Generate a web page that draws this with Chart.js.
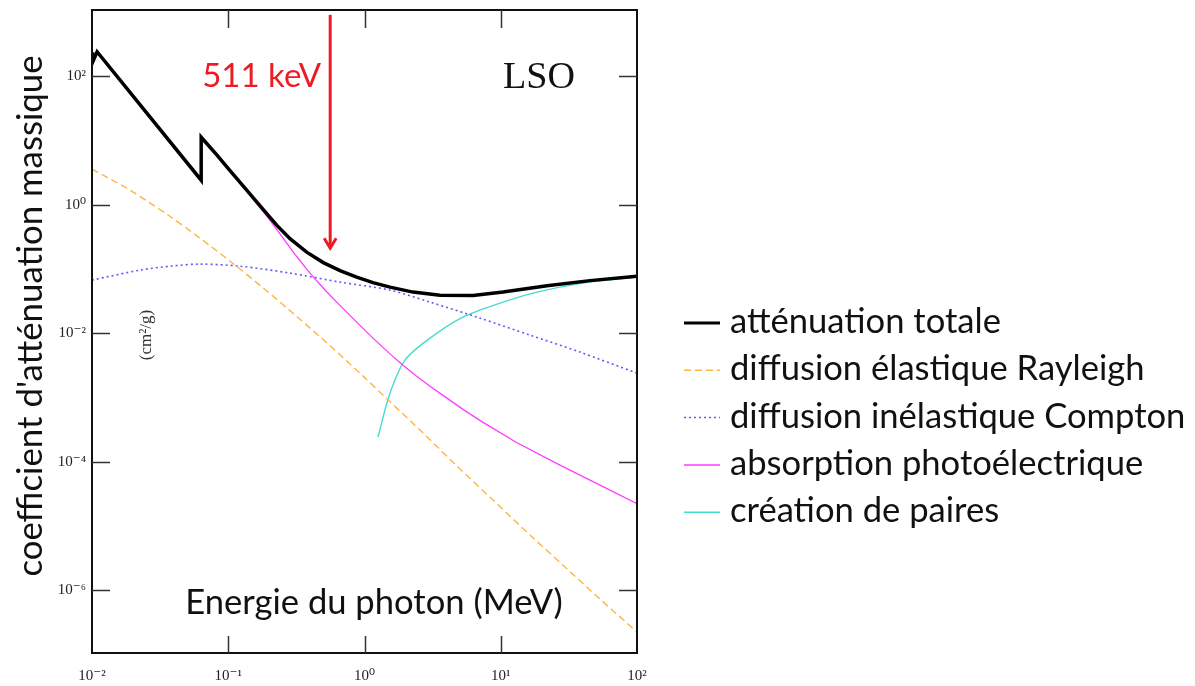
<!DOCTYPE html>
<html>
<head>
<meta charset="utf-8">
<script src="https://cdn.jsdelivr.net/npm/chart.js@4"></script>
<style>
  html, body { margin: 0; padding: 0; background: #fff; }
  #wrap { width: 1195px; height: 686px; position: relative; }
</style>
</head>
<body>
<div id="wrap"><canvas id="lsoChart"></canvas></div>
<script>
// LSO mass attenuation, energy in MeV, values in cm2/g
const totalEnergy = [0.01, 0.0101, 0.0109, 0.0267, 0.0633, 0.0633, 0.0827, 0.103, 0.1366, 0.1808, 0.2267, 0.2839, 0.3764, 0.4984, 0.661, 0.8764, 1.154, 1.539, 2.27, 3.58, 6.26, 10.4, 21.85, 45.2, 100];
const totalValue = [235, 165, 240, 23, 2.4, 11.2, 5.89, 3.38, 1.68, 0.836, 0.48, 0.2957, 0.1823, 0.1252, 0.0939, 0.0744, 0.0611, 0.052, 0.0435, 0.039, 0.0384, 0.0435, 0.0548, 0.0656, 0.0771];

const rayleighEnergy = [0.01, 0.019, 0.0374, 0.062, 0.1084, 0.18, 0.3196, 0.558, 0.975, 1.463, 2.555, 4.775, 8.77, 16.4, 29.6, 53.5, 100];
const rayleighValue = [3.57, 1.68, 0.653, 0.301, 0.121, 0.0507, 0.018, 0.00637, 0.00214, 9.46e-4, 3.09e-4, 8.51e-5, 2.52e-5, 7.18e-6, 2.28e-6, 7.24e-7, 2.22e-7];

const comptonEnergy = [0.01, 0.0225, 0.0374, 0.062, 0.122, 0.284, 0.661, 1.539, 3.025, 7.04, 16.4, 38.2, 100];
const comptonValue = [0.0668, 0.0956, 0.110, 0.1186, 0.110, 0.0859, 0.0622, 0.0467, 0.0304, 0.0171, 0.0093, 0.00506, 0.00238];

const photoEnergy = [0.01, 0.0101, 0.0109, 0.0267, 0.0633, 0.0633, 0.0827, 0.103, 0.1366, 0.1618, 0.1893, 0.2267, 0.2677, 0.318, 0.3764, 0.4459, 0.528, 0.625, 0.8764, 1.154, 1.539, 1.917, 2.388, 3.025, 3.769, 5.28, 7.41, 13.16, 27.2, 53.5, 100];
const photoValue = [225, 158, 232, 22, 2.3, 10.8, 5.69, 3.26, 1.62, 1.036, 0.687, 0.4127, 0.2543, 0.1557, 0.0991, 0.0652, 0.0441, 0.0304, 0.01483, 0.00836, 0.00475, 0.003165, 0.002173, 0.001491, 0.001072, 6.49e-4, 4.07e-4, 1.96e-4, 8.79e-5, 4.29e-5, 2.21e-5];

const pairEnergy = [1.256, 1.539, 1.983, 3.025, 5.28, 9.87, 18.45, 40.2, 100];
const pairValue = [2.41e-4, 1.164e-3, 0.0038, 0.00836, 0.01774, 0.0293, 0.0435, 0.06, 0.0744];

const seriesLabels = [
  "atténuation totale",
  "diffusion élastique Rayleigh",
  "diffusion inélastique Compton",
  "absorption photoélectrique",
  "création de paires"
];

const xTicks = [1e-2, 1e-1, 1, 10, 100];
const yTicks = [1e-6, 1e-4, 1e-2, 1, 1e2];

const arrowEnergy = 0.56;   // where the 511 keV arrow is drawn
const arrowTop = 900;
const arrowTip = 0.21;

const SUP = { "-": "\u207B", "0": "\u2070", "1": "\u00B9", "2": "\u00B2", "3": "\u00B3",
  "4": "\u2074", "5": "\u2075", "6": "\u2076", "7": "\u2077", "8": "\u2078", "9": "\u2079" };

function powLabel(v) {
  const e = Math.round(Math.log10(v));
  return "10" + String(e).split("").map(c => SUP[c]).join("");
}

function toPoints(xs, ys) {
  return xs.map((x, i) => ({ x: x, y: ys[i] }));
}

function fitSize(ctx, text, family, target) {
  ctx.font = "100px " + family;
  return 100 * target / ctx.measureText(text).width;
}

const SANS = "Lato, 'Open Sans', sans-serif";
const SERIF = "'Liberation Serif', 'DejaVu Serif', serif";

const framePlugin = {
  id: "frame",
  afterDatasetsDraw(chart) {
    const { ctx, chartArea: a, scales: { x, y } } = chart;
    ctx.save();
    ctx.strokeStyle = "#111";
    ctx.lineWidth = 2;
    ctx.strokeRect(a.left, a.top, a.right - a.left, a.bottom - a.top);
    ctx.lineWidth = 1.5;
    ctx.strokeStyle = "#333";
    ctx.beginPath();
    yTicks.forEach(v => {
      const py = Math.round(y.getPixelForValue(v)) + 0.5;
      ctx.moveTo(a.left, py); ctx.lineTo(a.left + 18, py);
      ctx.moveTo(a.right, py); ctx.lineTo(a.right - 18, py);
    });
    xTicks.slice(1, -1).forEach(v => {
      const px = Math.round(x.getPixelForValue(v)) + 0.5;
      ctx.moveTo(px, a.top); ctx.lineTo(px, a.top + 18);
      ctx.moveTo(px, a.bottom); ctx.lineTo(px, a.bottom - 17);
    });
    ctx.stroke();
    ctx.restore();
  }
};

const textPlugin = {
  id: "texts",
  afterDraw(chart) {
    const { ctx, scales: { x, y } } = chart;
    ctx.save();

    // 511 keV arrow
    const ax = x.getPixelForValue(arrowEnergy);
    const ay0 = y.getPixelForValue(arrowTop);
    const ay1 = y.getPixelForValue(arrowTip);
    ctx.strokeStyle = "#ed1c24";
    ctx.lineWidth = 3;
    ctx.beginPath();
    ctx.moveTo(ax, ay0); ctx.lineTo(ax, ay1 - 2);
    ctx.stroke();
    ctx.beginPath();
    ctx.moveTo(ax - 6, ay1 - 10); ctx.lineTo(ax, ay1); ctx.lineTo(ax + 6, ay1 - 10);
    ctx.stroke();

    ctx.fillStyle = "#ed1c24";
    ctx.textAlign = "right";
    ctx.textBaseline = "alphabetic";
    ctx.font = fitSize(ctx, "511 keV", SANS, 119).toFixed(1) + "px " + SANS;
    ctx.fillText("511 keV", ax - 9, 87);

    ctx.fillStyle = "#111";
    ctx.textAlign = "left";
    ctx.font = fitSize(ctx, "LSO", SERIF, 72).toFixed(1) + "px " + SERIF;
    ctx.fillText("LSO", 503, 88);

    // axis titles
    ctx.fillStyle = "#111";
    ctx.textAlign = "center";
    ctx.textBaseline = "middle";
    ctx.font = fitSize(ctx, "Energie du photon (MeV)", SANS, 378).toFixed(1) + "px " + SANS;
    ctx.fillText("Energie du photon (MeV)", 374, 603);

    const yTitle = "coefficient d'atténuation massique";
    ctx.save();
    ctx.translate(31, 316);
    ctx.rotate(-Math.PI / 2);
    ctx.font = fitSize(ctx, yTitle, SANS, 522).toFixed(1) + "px " + SANS;
    ctx.fillText(yTitle, 0, 0);
    ctx.restore();

    ctx.save();
    ctx.translate(147, 335);
    ctx.rotate(-Math.PI / 2);
    ctx.fillStyle = "#333";
    ctx.font = "17px " + SERIF;
    ctx.fillText("(cm\u00B2/g)", 0, 0);
    ctx.restore();

    // legend from the datasets
    const legendSize = fitSize(ctx, seriesLabels[2], SANS, 456);
    chart.data.datasets.forEach((ds, i) => {
      const ly = 322 + i * 47.3;
      ctx.strokeStyle = ds.borderColor;
      ctx.lineWidth = i === 0 ? 3 : 1.5;
      ctx.setLineDash(ds.borderDash || []);
      ctx.beginPath();
      ctx.moveTo(684, ly + 1); ctx.lineTo(720, ly + 1);
      ctx.stroke();
      ctx.setLineDash([]);
      ctx.fillStyle = "#111";
      ctx.textAlign = "left";
      ctx.textBaseline = "middle";
      ctx.font = legendSize.toFixed(1) + "px " + SANS;
      ctx.fillText(ds.label, 730, ly);
    });

    ctx.restore();
  }
};

function lineSet(label, xs, ys, color, width, dash, tension) {
  return {
    label: label,
    data: toPoints(xs, ys),
    borderColor: color,
    borderWidth: width,
    borderDash: dash,
    pointRadius: 0,
    fill: false,
    tension: tension
  };
}

const ctx = document.getElementById("lsoChart").getContext("2d");

new Chart(ctx, {
  type: "line",
  data: {
    datasets: [
      lineSet(seriesLabels[0], totalEnergy, totalValue, "#000000", 3.5, [], 0),
      lineSet(seriesLabels[1], rayleighEnergy, rayleighValue, "#ffb443", 1.4, [7, 4], 0.3),
      lineSet(seriesLabels[2], comptonEnergy, comptonValue, "#5c5cff", 1.6, [2, 3], 0.3),
      lineSet(seriesLabels[3], photoEnergy, photoValue, "#ff3cff", 1.3, [], 0),
      lineSet(seriesLabels[4], pairEnergy, pairValue, "#45dccc", 1.4, [], 0.3)
    ]
  },
  options: {
    responsive: true,
    maintainAspectRatio: false,
    animation: false,
    layout: { padding: { top: 10, right: 558, left: 0, bottom: 0 } },
    plugins: {
      legend: { display: false },
      tooltip: { enabled: false }
    },
    scales: {
      x: {
        type: "logarithmic",
        min: 0.01,
        max: 100,
        grid: { display: false, drawTicks: false },
        border: { display: false },
        afterBuildTicks: s => { s.ticks = xTicks.map(v => ({ value: v })); },
        afterFit: s => { s.height = 33; s.paddingLeft = 0; s.paddingRight = 0; },
        ticks: {
          callback: v => powLabel(v),
          autoSkip: false,
          maxRotation: 0,
          padding: 14,
          color: "#222",
          font: { family: SERIF, size: 15 }
        }
      },
      y: {
        type: "logarithmic",
        min: Math.pow(10, -6.98),
        max: Math.pow(10, 3.03),
        grid: { display: false, drawTicks: false },
        border: { display: false },
        afterBuildTicks: s => { s.ticks = yTicks.map(v => ({ value: v })); },
        afterFit: s => { s.width = 92; s.paddingTop = 0; s.paddingBottom = 0; },
        ticks: {
          callback: v => powLabel(v),
          autoSkip: false,
          padding: 6,
          color: "#222",
          font: { family: SERIF, size: 15 }
        }
      }
    }
  },
  plugins: [framePlugin, textPlugin]
});
</script>
</body>
</html>
